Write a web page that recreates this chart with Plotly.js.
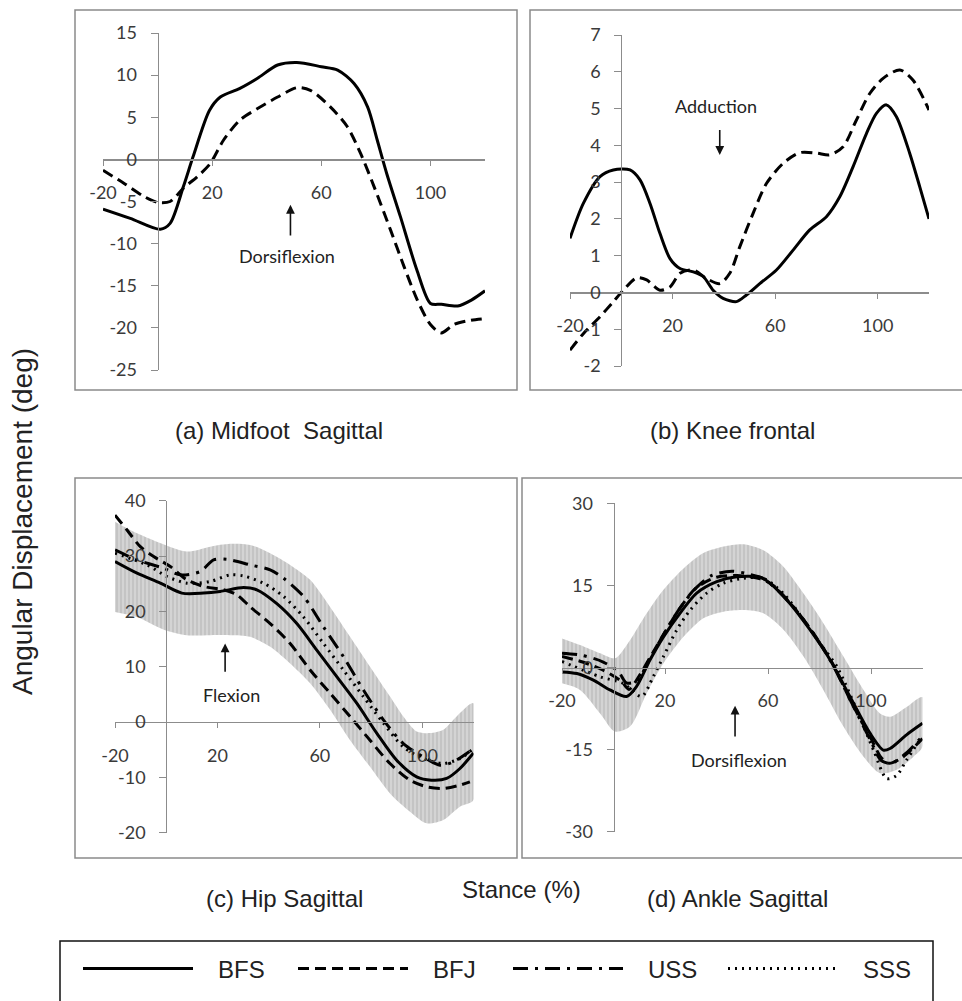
<!DOCTYPE html>
<html><head><meta charset="utf-8">
<script src="https://cdn.plot.ly/plotly-3.0.1.min.js"></script>
<style>html,body{margin:0;padding:0;background:#fff}</style>
</head><body><div id="chart" style="width:962px;height:1001px"></div>
<script>
// ---------- DATA ----------
const seriesNames = ['BFS', 'BFJ', 'USS', 'SSS'];
const panelTitles = ['(a) Midfoot  Sagittal', '(b) Knee frontal', '(c) Hip Sagittal', '(d) Ankle Sagittal'];
const stanceTicks = [-20, 20, 60, 100];
const stanceTickText = ['-20', '20', '60', '100'];
const aYTicks = [-25, -20, -15, -10, -5, 0, 5, 10, 15];
const aYTickText = ['-25', '-20', '-15', '-10', '-5', '0', '5', '10', '15'];
const bYTicks = [-2, -1, 0, 1, 2, 3, 4, 5, 6, 7];
const bYTickText = ['-2', '-1', '0', '1', '2', '3', '4', '5', '6', '7'];
const cYTicks = [-20, -10, 0, 10, 20, 30, 40];
const cYTickText = ['-20', '-10', '0', '10', '20', '30', '40'];
const dYTicks = [-30, -15, 0, 15, 30];
const dYTickText = ['-30', '-15', '0', '15', '30'];

// (a) Midfoot sagittal
const aBfsX = [-20, -10, 1, 4.6, 9.5, 13, 19, 23, 30, 36.5, 44, 51, 60, 66, 72, 77, 80.5, 84, 89, 95, 100, 104, 110, 115, 120];
const aBfsY = [-5.9, -7.0, -8.3, -7.6, -3.2, 0.3, 5.8, 7.4, 8.4, 9.6, 11.2, 11.5, 11.0, 10.6, 9.0, 6.2, 2.3, -1.7, -6.8, -13.1, -17.1, -17.2, -17.4, -16.7, -15.6];
const aBfjX = [-20, -12.5, -5, 0, 4.6, 9.5, 14.4, 19.3, 24.2, 30.3, 36.5, 44, 51, 56, 63.4, 69.5, 74.4, 79.3, 85.4, 90.3, 95.2, 100, 104, 108.6, 114.7, 120];
const aBfjY = [-1.3, -2.8, -4.4, -5.1, -5.0, -3.4, -2.1, -0.5, 2.3, 4.7, 6.0, 7.4, 8.5, 8.2, 6.2, 3.9, 0.7, -3.2, -8.4, -12.7, -16.7, -19.6, -20.6, -19.6, -19.1, -18.9];

// (b) Knee frontal
const bBfsX = [-20, -14.8, -8.3, -3.1, 3.4, 7.3, 11.2, 15.1, 19, 22.9, 28.1, 32, 35.8, 39.7, 44.9, 48.8, 54, 60.5, 67, 73.5, 80, 85.2, 90.4, 95.6, 99.5, 103.4, 107.3, 112.5, 116.4, 120];
const bBfsY = [1.47, 2.42, 3.15, 3.33, 3.33, 3.06, 2.42, 1.6, 0.92, 0.65, 0.56, 0.43, 0.06, -0.16, -0.25, -0.07, 0.24, 0.61, 1.15, 1.7, 2.06, 2.6, 3.42, 4.32, 4.87, 5.1, 4.78, 3.78, 2.87, 2.0];
const bBfjX = [-20, -14.8, -8.3, -3.1, 0.8, 6, 9.9, 15.1, 19, 22.9, 28.1, 33.2, 38.4, 42.3, 46.2, 51.4, 56.6, 63.1, 69.6, 76.1, 81.3, 86.5, 91.7, 96.9, 102.1, 108.6, 113.8, 120];
const bBfjY = [-1.57, -1.12, -0.66, -0.25, 0.06, 0.4, 0.34, 0.06, 0.15, 0.52, 0.61, 0.38, 0.24, 0.52, 1.24, 2.15, 2.96, 3.51, 3.8, 3.79, 3.74, 3.96, 4.69, 5.41, 5.82, 6.05, 5.77, 4.96];

// (c) Hip sagittal
const cBandUpX = [-20, -11.4, -0.4, 8.1, 17.2, 25, 32.8, 40.6, 48.4, 56.2, 64, 71.8, 79.6, 87.4, 92.6, 97.8, 103, 108.2, 113.4, 120];
const cBandUpY = [36.2, 34.1, 32, 30.8, 31.7, 32.2, 32, 30.5, 28.4, 25.7, 20.8, 15.4, 10, 4.6, 1, -1.7, -2, -1.4, 1, 3.4];
const cBandLoX = [-20, -11.4, -0.4, 8.1, 17.2, 25, 32.8, 40.6, 48.4, 56.2, 64, 71.8, 79.6, 87.4, 95.2, 101.7, 108.2, 114.7, 120];
const cBandLoY = [19.9, 19, 16.6, 15.7, 15.7, 15.7, 15.4, 13.6, 10.6, 7, 2.2, -3.3, -8.1, -12.9, -16.2, -18.3, -17.7, -15.3, -14.1];
const cBfsX = [-20, -11.4, -2.3, 6.1, 14.6, 21.1, 30.2, 35.4, 43.2, 51, 58.8, 66.6, 74.4, 82.2, 90, 97.8, 103.6, 109.5, 114.7, 120];
const cBfsY = [29, 26.9, 25.1, 23.3, 23.3, 23.6, 24.3, 23.9, 21.4, 17.8, 13, 8.2, 3.4, -2, -6.9, -9.9, -10.5, -10.2, -8.4, -5.6];
const cBfjX = [-20, -15.3, -10.1, -4.9, 1.6, 8.1, 14.6, 22.4, 27.6, 32.8, 40.6, 48.4, 56.2, 64, 71.8, 79.6, 87.4, 95.2, 101.7, 108.2, 114.7, 118.6];
const cBfjY = [37.4, 34.7, 31.7, 29.9, 28.1, 25.7, 24.5, 23.9, 23, 20.8, 17.8, 14.2, 9.4, 5.2, 1, -3.3, -7.5, -10.5, -11.7, -12, -11.4, -10.8];
const cUssX = [-20, -11.4, -1, 5.5, 13.3, 18.5, 23.7, 32.8, 40.6, 45.8, 53.6, 61.4, 69.2, 77, 84.8, 92.6, 100.4, 106.9, 112.1, 120];
const cUssY = [31.1, 29.3, 27.8, 26.6, 27.2, 29.3, 29.4, 28.4, 27.5, 26, 22.7, 17.2, 11.8, 5.8, 0.4, -3.9, -6.3, -7.8, -7.2, -4.8];
const cSssX = [-20, -7.5, 0.3, 8.1, 17.2, 25, 30.2, 38, 45.8, 53.6, 61.4, 69.2, 77, 84.8, 92.6, 100.4, 108.2, 114.7, 120];
const cSssY = [30.5, 28.4, 26.3, 25.1, 25.4, 26.6, 26.4, 25.1, 22.7, 19, 14.2, 9.4, 4.6, -0.2, -4.5, -6.6, -7.5, -6.6, -4.8];

// (d) Ankle sagittal
const dBandUpX = [-20, -13, -5.2, 0.6, 6.4, 12.9, 19.4, 27.2, 34.9, 42.7, 50.5, 58.2, 66, 73.8, 81.5, 89.3, 97.1, 103.5, 107.4, 113.8, 120];
const dBandUpY = [5.3, 4.1, 2.6, 1.7, 5, 9.9, 14.2, 18.1, 20.9, 22.1, 22.5, 21.4, 18.4, 13.5, 8.1, 2, -4.1, -8.4, -9, -7.2, -5.4];
const dBandLoX = [-20, -13, -5.2, 0.6, 6.4, 12.9, 19.4, 27.2, 34.9, 42.7, 50.5, 58.2, 66, 73.8, 81.5, 89.3, 97.1, 103.5, 110, 116.5, 120];
const dBandLoY = [-2.9, -4.1, -8.4, -11.7, -10.8, -4.7, 0.76, 5.6, 9, 10.2, 10.5, 9.9, 6.9, 2, -4.1, -10.8, -16.3, -19.3, -18.7, -16.3, -14.5];
const dBfsX = [-20, -14.2, -7.8, -1.4, 5.1, 8.9, 14.2, 19.4, 25.8, 32.3, 40.1, 47.8, 56.9, 60.8, 68.5, 76.3, 84.1, 91.8, 99.6, 104.8, 107.4, 113.8, 120];
const dBfsY = [-0.8, -1.1, -2.3, -4.1, -5.3, -3.5, 1.4, 5.6, 9.9, 13.6, 15.7, 16.6, 16.5, 15.4, 11.7, 6.9, 1.4, -5.3, -12, -15.1, -14.8, -12.3, -10.2];
const dBfjX = [-20, -12, -4, 3, 6, 10, 15, 20, 26, 32, 40, 48, 57, 62, 70, 78, 85, 92, 100, 104, 107, 112, 120];
const dBfjY = [2.0, 1.0, -0.5, -2.5, -4.0, -1.5, 2.5, 6.5, 11, 14.5, 16.5, 16.8, 16.2, 15.0, 11.0, 6.0, 0.8, -6.0, -13, -16.5, -17.5, -16.5, -13];
const dUssX = [-20, -12, -4, 2, 5, 9, 14, 20, 26, 32, 38, 46, 53, 58, 64, 70, 78, 85, 92, 100, 104, 108, 114, 120];
const dUssY = [2.6, 2.2, 1.0, -0.8, -2.8, -2.5, 1.5, 6.5, 11, 14.5, 16.8, 17.6, 17.0, 16.3, 14, 11, 6, 0.6, -6, -13.5, -17, -17.5, -15.5, -12.5];
const dSssX = [-20, -5.2, 3.8, 10.9, 15.4, 19.4, 24.6, 29.8, 36.2, 42.7, 50.5, 58.2, 66, 74, 80, 86.7, 94.5, 101, 106.1, 110, 113.8, 119];
const dSssY = [1.1, -1.7, -2.9, -5.3, -1.7, 2, 6.9, 10.5, 13.6, 15.4, 16.3, 16.3, 13.5, 8.6, 4.5, 0.2, -7.8, -15.1, -20.3, -19.7, -16.9, -13.2];

// ---------- LAYOUT HELPERS ----------
const W = 962, H = 1001;
const fx = px => px / W;
const fy = py => 1 - py / H;
const xRange = [-20, 120];

// pixel frame of each plot area: [x at -20, x at 120], [y at top value, y at bottom value]
const panels = [
  {xpx: [103, 485], ypx: [33, 370], yr: [-25, 15], tv: aYTicks, tt: aYTickText},
  {xpx: [570, 929], ypx: [35, 366], yr: [-2, 7], tv: bYTicks, tt: bYTickText},
  {xpx: [115, 473.5], ypx: [500.7, 832.7], yr: [-20, 40], tv: cYTicks, tt: cYTickText},
  {xpx: [562, 922.5], ypx: [503.3, 831.7], yr: [-30, 30], tv: dYTicks, tt: dYTickText}
];

const tickFont = {family: 'Lato, Carlito, sans-serif', size: 18, color: '#3a3a3a'};
const axisColor = '#8c8c8c';

const layout = {
  width: W, height: H,
  margin: {l: 0, r: 0, t: 0, b: 0},
  paper_bgcolor: '#fff', plot_bgcolor: 'rgba(0,0,0,0)',
  showlegend: true,
  legend: {
    orientation: 'h', x: fx(78), xanchor: 'left', y: fy(969), yanchor: 'middle',
    font: {family: 'Liberation Sans, Arial, sans-serif', size: 24, color: '#222'},
    itemwidth: 110, entrywidth: 90, entrywidthmode: 'pixels',
    bgcolor: 'rgba(0,0,0,0)', traceorder: 'normal', itemclick: false
  },
  shapes: [], annotations: []
};

panels.forEach((p, i) => {
  const s = i === 0 ? '' : String(i + 1);
  const xd = [fx(p.xpx[0]), fx(p.xpx[1])];
  const yd = [fy(p.ypx[1]), fy(p.ypx[0])];
  const xPos = yd[0] + (0 - p.yr[0]) / (p.yr[1] - p.yr[0]) * (yd[1] - yd[0]);
  const yPos = xd[0] + (0 - xRange[0]) / (xRange[1] - xRange[0]) * (xd[1] - xd[0]);
  layout['xaxis' + s] = {
    domain: xd, range: xRange, anchor: 'free', position: xPos,
    tickmode: 'array', tickvals: stanceTicks, ticktext: stanceTickText,
    ticks: 'outside', ticklen: 5, tickcolor: axisColor,
    showline: true, linecolor: axisColor, linewidth: 1.2,
    showgrid: false, zeroline: false, tickfont: tickFont, ticklabelstandoff: 12,
    fixedrange: true
  };
  layout['yaxis' + s] = {
    domain: yd, range: p.yr, anchor: 'free', position: yPos,
    tickmode: 'array', tickvals: p.tv, ticktext: p.tt,
    ticks: 'outside', ticklen: 7, tickcolor: axisColor,
    showline: true, linecolor: axisColor, linewidth: 1.2,
    showgrid: false, zeroline: false, tickfont: tickFont, ticklabelstandoff: 10,
    fixedrange: true
  };
});

// panel frames and legend frame
const frames = [[75, 10, 517, 390], [530, 10, 970, 390], [75, 478, 517, 858], [522, 478, 970, 858]];
frames.forEach(f => layout.shapes.push({type: 'rect', xref: 'paper', yref: 'paper',
  x0: fx(f[0]), x1: fx(f[2]), y0: fy(f[3]), y1: fy(f[1]), line: {color: '#8a8a8a', width: 1.5}, layer: 'below'}));
layout.shapes.push({type: 'rect', xref: 'paper', yref: 'paper', x0: fx(60), x1: fx(933), y0: fy(1010), y1: fy(941),
  line: {color: '#111', width: 1.5}, layer: 'below'});

// panel titles & shared titles
const titleFont = {family: 'Liberation Sans, Arial, sans-serif', size: 24, color: '#222'};
const titlePos = [[279, 430], [732, 430], [284, 898], [737, 898]];
panelTitles.forEach((t, i) => layout.annotations.push({text: t, xref: 'paper', yref: 'paper',
  x: fx(titlePos[i][0]), y: fy(titlePos[i][1]), xanchor: 'center', yanchor: 'middle', showarrow: false, font: titleFont}));
layout.annotations.push({text: 'Stance (%)', xref: 'paper', yref: 'paper', x: fx(521), y: fy(889),
  xanchor: 'center', yanchor: 'middle', showarrow: false, font: titleFont});
layout.annotations.push({text: 'Angular Displacement (deg)', xref: 'paper', yref: 'paper', x: fx(22), y: fy(522),
  xanchor: 'center', yanchor: 'middle', showarrow: false, textangle: -90,
  font: {family: 'Liberation Sans, Arial, sans-serif', size: 28, color: '#222'}});

// in-plot notes with arrows
const noteFont = {family: 'Lato, Carlito, sans-serif', size: 18, color: '#222'};
const notes = [
  {s: '', text: 'Dorsiflexion', tx: 47.5, ty: -11.5, ax: 48.7, tail: -9.2, head: -5.4},
  {s: '2', text: 'Adduction', tx: 37.1, ty: 5.07, ax: 38.4, tail: 4.46, head: 3.74},
  {s: '3', text: 'Flexion', tx: 25.6, ty: 4.8, ax: 23, tail: 8.8, head: 14.2},
  {s: '4', text: 'Dorsiflexion', tx: 48.9, ty: -16.9, ax: 47.2, tail: -12.9, head: -7.0}
];
notes.forEach(n => {
  layout.annotations.push({xref: 'x' + n.s, yref: 'y' + n.s, x: n.tx, y: n.ty, text: n.text,
    xanchor: 'center', yanchor: 'middle', showarrow: false, font: noteFont});
  layout.annotations.push({xref: 'x' + n.s, yref: 'y' + n.s, x: n.ax, y: n.head, axref: 'x' + n.s, ayref: 'y' + n.s,
    ax: n.ax, ay: n.tail, text: '', showarrow: true, arrowhead: 2, arrowsize: 1.1, arrowwidth: 1.6, arrowcolor: '#111'});
});

// ---------- TRACES ----------
const lineStyles = {
  BFS: {color: '#000', width: 3, dash: 'solid'},
  BFJ: {color: '#000', width: 3, dash: '11px,6px'},
  USS: {color: '#000', width: 3, dash: '15px,7px,3px,7px'},
  SSS: {color: '#000', width: 3, dash: '2px,5px'}
};
const legendPad = '\u00a0\u00a0\u00a0';
function line(name, x, y, s, legend) {
  return {type: 'scatter', mode: 'lines', name: legendPad + name, x: x, y: y, xaxis: 'x' + s, yaxis: 'y' + s,
    line: Object.assign({shape: 'spline', smoothing: 0.8}, lineStyles[name]),
    showlegend: !!legend, hoverinfo: 'skip', legendrank: seriesNames.indexOf(name) + 1};
}
function band(upX, upY, loX, loY, s) {
  return {type: 'scatter', mode: 'lines', x: upX.concat(loX.slice().reverse()), y: upY.concat(loY.slice().reverse()),
    xaxis: 'x' + s, yaxis: 'y' + s, fill: 'toself', fillcolor: '#d2d2d2',
    fillpattern: {shape: '|', bgcolor: '#d4d4d4', fgcolor: '#bdbdbd', size: 4, solidity: 0.35},
    line: {width: 0, shape: 'spline', smoothing: 0.8}, showlegend: false, hoverinfo: 'skip'};
}

const traces = [
  line('BFS', aBfsX, aBfsY, ''), line('BFJ', aBfjX, aBfjY, ''),
  line('BFS', bBfsX, bBfsY, '2'), line('BFJ', bBfjX, bBfjY, '2'),
  band(cBandUpX, cBandUpY, cBandLoX, cBandLoY, '3'),
  line('BFS', cBfsX, cBfsY, '3', true), line('BFJ', cBfjX, cBfjY, '3', true),
  line('USS', cUssX, cUssY, '3', true), line('SSS', cSssX, cSssY, '3', true),
  band(dBandUpX, dBandUpY, dBandLoX, dBandLoY, '4'),
  line('BFS', dBfsX, dBfsY, '4'), line('BFJ', dBfjX, dBfjY, '4'),
  line('USS', dUssX, dUssY, '4'), line('SSS', dSssX, dSssY, '4')
];

Plotly.newPlot('chart', traces, layout, {displayModeBar: false, staticPlot: true});
</script></body></html>
